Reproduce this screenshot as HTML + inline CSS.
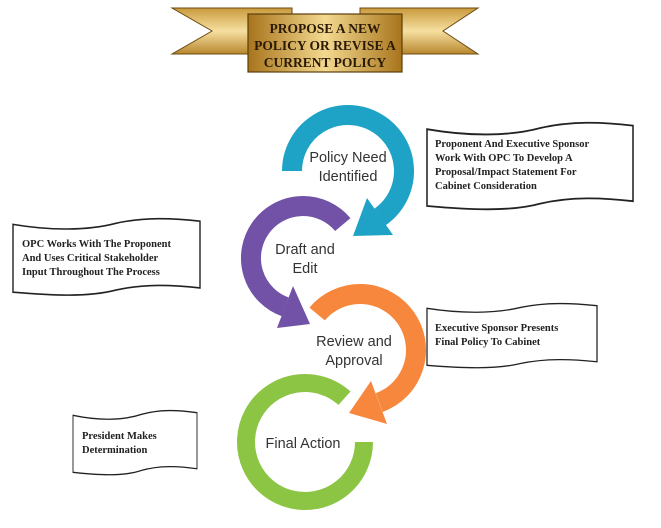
<!DOCTYPE html>
<html><head><meta charset="utf-8"><style>
html,body{margin:0;padding:0;background:#fff;width:661px;height:528px;overflow:hidden}
svg{display:block}
.bt{font-family:"Liberation Serif",serif;font-weight:bold;font-size:10.5px;fill:#222}
.ct{font-family:"Liberation Sans","DejaVu Sans",sans-serif;font-size:14.5px;fill:#333;text-anchor:middle}
.hd{font-family:"Liberation Serif",serif;font-weight:bold;font-size:13.5px;fill:#2a1a05;text-anchor:middle}
</style></head><body>
<svg width="661" height="528" viewBox="0 0 661 528" xmlns="http://www.w3.org/2000/svg">
<defs>
<linearGradient id="gold" x1="0" y1="0" x2="1" y2="0">
<stop offset="0" stop-color="#a8741c"/><stop offset=".5" stop-color="#f3d98f"/><stop offset="1" stop-color="#a8741c"/>
</linearGradient>
<linearGradient id="gold2" x1="0" y1="0" x2="0" y2="1">
<stop offset="0" stop-color="#c99a3c"/><stop offset=".5" stop-color="#f6e0a0"/><stop offset="1" stop-color="#b8862e"/>
</linearGradient>
<path id="scroll" d="M0,6 C40,12 80,12 110,5 C140,-1 170,0 200,3 L200,66 C170,63 140,62 110,68 C80,75 40,73 0,70 Z"/>
</defs>
<!-- banner -->
<polygon points="172,8 292,8 292,54 172,54 212,31" fill="url(#gold2)" stroke="#6a4a10" stroke-width="1"/>
<polygon points="478,8 360,8 360,54 478,54 443,31" fill="url(#gold2)" stroke="#6a4a10" stroke-width="1"/>
<rect x="248" y="14" width="154" height="58" fill="url(#gold)" stroke="#5a3e0c" stroke-width="1.2"/>
<text class="hd" x="325" y="33">PROPOSE A NEW</text>
<text class="hd" x="325" y="50">POLICY OR REVISE A</text>
<text class="hd" x="325" y="67">CURRENT POLICY</text>
<!-- arrows -->
<path d="M292 171 A56 56 0 1 1 380.1 216.9" fill="none" stroke="#1ea3c6" stroke-width="20"/>
<polygon points="393,235 367,198 353,236" fill="#1ea3c6"/>
<path d="M342.8 224.6 A52 52 0 1 0 285.2 306.9" fill="none" stroke="#7152a6" stroke-width="20"/>
<polygon points="277,328 293,286 310,324" fill="#7152a6"/>
<path d="M317.1 314 A56 56 0 1 1 379.2 402.6" fill="none" stroke="#f7873c" stroke-width="20"/>
<polygon points="387,424 371,381 349,413" fill="#f7873c"/>
<path d="M364 442 A59 59 0 1 1 344.5 398.2" fill="none" stroke="#8cc443" stroke-width="18"/>
<text class="ct" x="348" y="162">Policy Need</text>
<text class="ct" x="348" y="181">Identified</text>
<text class="ct" x="305" y="254">Draft and</text>
<text class="ct" x="305" y="273">Edit</text>
<text class="ct" x="354" y="346">Review and</text>
<text class="ct" x="354" y="365">Approval</text>
<text class="ct" x="303" y="448">Final Action</text>
<!-- boxes -->
<use href="#scroll" transform="translate(427,122) scale(1.03,1.2)" fill="#fff" stroke="#222" stroke-width="1.5" vector-effect="non-scaling-stroke"/>
<text class="bt" x="435" y="147">Proponent And Executive Sponsor</text>
<text class="bt" x="435" y="161">Work With OPC To Develop A</text>
<text class="bt" x="435" y="175">Proposal/Impact Statement For</text>
<text class="bt" x="435" y="189">Cabinet Consideration</text>
<use href="#scroll" transform="translate(13,218) scale(0.935,1.06)" fill="#fff" stroke="#222" stroke-width="1.5" vector-effect="non-scaling-stroke"/>
<text class="bt" x="22" y="247">OPC Works With The Proponent</text>
<text class="bt" x="22" y="261">And Uses Critical Stakeholder</text>
<text class="bt" x="22" y="275">Input Throughout The Process</text>
<use href="#scroll" transform="translate(427,303) scale(0.85,0.89)" fill="#fff" stroke="#222" stroke-width="1.5" vector-effect="non-scaling-stroke"/>
<text class="bt" x="435" y="331">Executive Sponsor Presents</text>
<text class="bt" x="435" y="345">Final Policy To Cabinet</text>
<use href="#scroll" transform="translate(73,410) scale(0.62,0.89)" fill="#fff" stroke="#222" stroke-width="1.5" vector-effect="non-scaling-stroke"/>
<text class="bt" x="82" y="439">President Makes</text>
<text class="bt" x="82" y="453">Determination</text>
</svg>
</body></html>
